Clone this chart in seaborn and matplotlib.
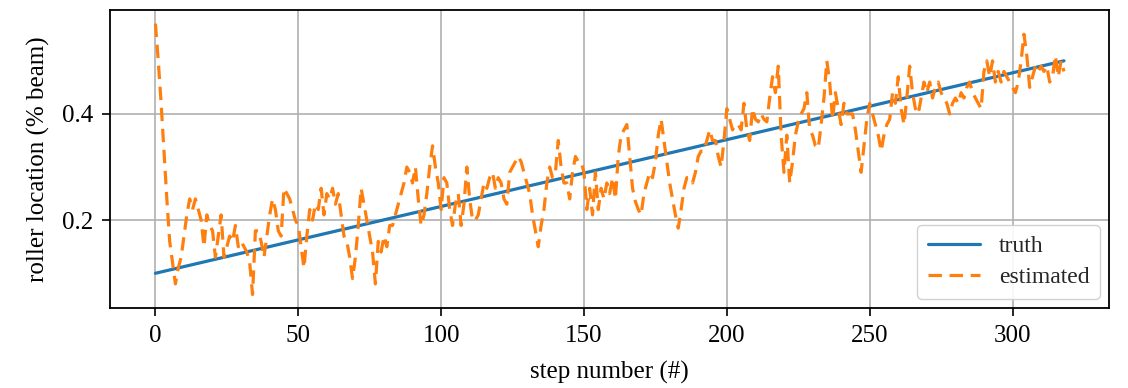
import numpy as np
import pandas as pd
import matplotlib
matplotlib.use("Agg")
import matplotlib.pyplot as plt
import seaborn as sns

# ---- data ----
truth_steps = [0, 318]
truth_values = [0.10, 0.50]

estimated = [
    0.57, 0.50, 0.42, 0.33, 0.24, 0.16, 0.12, 0.08, 0.11, 0.13,   # 0-9
    0.17, 0.21, 0.24, 0.22, 0.24, 0.22, 0.20, 0.15, 0.21, 0.19,   # 10-19
    0.18, 0.13, 0.17, 0.21, 0.13, 0.15, 0.17, 0.16, 0.19, 0.15,   # 20-29
    0.16, 0.15, 0.14, 0.12, 0.06, 0.18, 0.18, 0.16, 0.13, 0.17,   # 30-39
    0.21, 0.24, 0.22, 0.18, 0.17, 0.26, 0.25, 0.24, 0.22, 0.20,   # 40-49
    0.19, 0.15, 0.11, 0.17, 0.22, 0.20, 0.23, 0.22, 0.26, 0.21,   # 50-59
    0.25, 0.24, 0.26, 0.23, 0.25, 0.21, 0.17, 0.16, 0.13, 0.09,   # 60-69
    0.13, 0.19, 0.26, 0.23, 0.20, 0.17, 0.14, 0.08, 0.16, 0.14,   # 70-79
    0.17, 0.15, 0.19, 0.19, 0.21, 0.23, 0.25, 0.27, 0.30, 0.29,   # 80-89
    0.27, 0.30, 0.24, 0.19, 0.21, 0.25, 0.30, 0.34, 0.30, 0.27,   # 90-99
    0.22, 0.28, 0.27, 0.22, 0.19, 0.23, 0.25, 0.19, 0.23, 0.30,   # 100-109
    0.24, 0.20, 0.20, 0.21, 0.24, 0.27, 0.26, 0.28, 0.29, 0.26,   # 110-119
    0.28, 0.27, 0.24, 0.23, 0.29, 0.30, 0.31, 0.32, 0.31, 0.29,   # 120-129
    0.27, 0.25, 0.21, 0.18, 0.15, 0.19, 0.22, 0.27, 0.30, 0.28,   # 130-139
    0.29, 0.35, 0.30, 0.27, 0.27, 0.24, 0.29, 0.32, 0.31, 0.31,   # 140-149
    0.29, 0.22, 0.26, 0.21, 0.29, 0.22, 0.26, 0.24, 0.27, 0.25,   # 150-159
    0.28, 0.24, 0.32, 0.36, 0.37, 0.38, 0.32, 0.26, 0.235, 0.22,  # 160-169
    0.21, 0.25, 0.27, 0.29, 0.28, 0.31, 0.36, 0.39, 0.35, 0.31,   # 170-179
    0.27, 0.24, 0.21, 0.185, 0.22, 0.26, 0.28, 0.28, 0.27, 0.29,  # 180-189
    0.32, 0.33, 0.33, 0.35, 0.37, 0.35, 0.35, 0.32, 0.30, 0.35,   # 190-199
    0.41, 0.39, 0.37, 0.38, 0.38, 0.37, 0.42, 0.37, 0.35, 0.41,   # 200-209
    0.39, 0.385, 0.40, 0.39, 0.385, 0.43, 0.47, 0.44, 0.49, 0.36, # 210-219
    0.29, 0.36, 0.27, 0.31, 0.36, 0.385, 0.40, 0.41, 0.44, 0.37,  # 220-229
    0.36, 0.34, 0.335, 0.38, 0.43, 0.50, 0.46, 0.39, 0.44, 0.41,  # 230-239
    0.38, 0.42, 0.40, 0.40, 0.40, 0.37, 0.33, 0.29, 0.34, 0.39,   # 240-249
    0.42, 0.40, 0.38, 0.36, 0.33, 0.36, 0.38, 0.39, 0.44, 0.42,   # 250-259
    0.47, 0.41, 0.38, 0.43, 0.49, 0.44, 0.41, 0.40, 0.43, 0.46,   # 260-269
    0.44, 0.46, 0.43, 0.45, 0.46, 0.44, 0.43, 0.42, 0.40, 0.42,   # 270-279
    0.43, 0.42, 0.44, 0.43, 0.45, 0.46, 0.44, 0.43, 0.42, 0.41,   # 280-289
    0.48, 0.50, 0.47, 0.50, 0.46, 0.48, 0.46, 0.48, 0.47, 0.46,   # 290-299
    0.45, 0.44, 0.46, 0.50, 0.55, 0.51, 0.45, 0.47, 0.49, 0.48,   # 300-309
    0.49, 0.48, 0.49, 0.46, 0.47, 0.51, 0.47, 0.50, 0.48,         # 310-318
]

x_ticks = [0, 50, 100, 150, 200, 250, 300]
y_ticks = [0.2, 0.4]

# ---- styling ----
sns.set_theme(style="whitegrid")
plt.rcParams["font.family"] = ["Liberation Serif", "DejaVu Serif"]

fig = plt.figure(figsize=(11.28, 3.88), dpi=100)
ax = fig.add_axes([0.0975, 0.206, 0.886, 0.768])

truth_df = pd.DataFrame({"step": truth_steps, "value": truth_values})
est_df = pd.DataFrame({"step": np.arange(len(estimated)), "value": estimated})

sns.lineplot(data=truth_df, x="step", y="value", ax=ax, color="#1f77b4",
             linewidth=2.3, label="truth")
sns.lineplot(data=est_df, x="step", y="value", ax=ax, color="#ff7f0e",
             linewidth=2.3, linestyle=(0, (4.2, 2.4)), label="estimated")

ax.set_xticks(x_ticks)
ax.set_yticks(y_ticks)
ax.set_xticklabels([str(t) for t in x_ticks])
ax.set_yticklabels([f"{t:.1f}" for t in y_ticks])
ax.tick_params(axis="both", labelsize=18, length=6, width=1.2, color="black",
               direction="out", bottom=True, left=True, labelcolor="black", pad=6)
ax.set_xlabel("step number (#)", fontsize=18, color="black", labelpad=10)
ax.set_ylabel("roller location (% beam)", fontsize=18, color="black", labelpad=9)

ax.grid(True, color="#b0b0b0", linewidth=1.2)
ax.set_facecolor("white")
for s in ax.spines.values():
    s.set_color("black")
    s.set_linewidth(1.3)

ax.margins(x=0.05, y=0.05)

leg = ax.legend(loc="lower right", fontsize=17, frameon=True, fancybox=True,
                handlelength=2.2, borderpad=0.45, labelspacing=0.4,
                handletextpad=0.8, borderaxespad=0.4)
leg.get_frame().set_edgecolor("#cccccc")
leg.get_frame().set_facecolor("white")
leg.get_frame().set_alpha(0.9)

fig.savefig("out.png", dpi=100)
